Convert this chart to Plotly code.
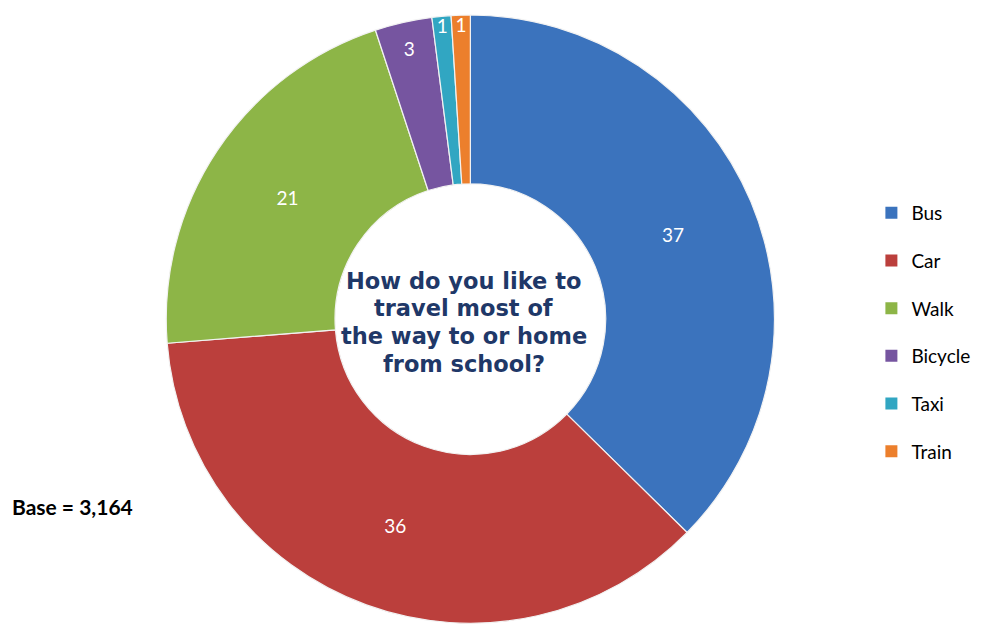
import plotly.graph_objects as go

categories = ["Bus", "Car", "Walk", "Bicycle", "Taxi", "Train"]
values = [37, 36, 21, 3, 1, 1]
colors = ["#3B73BD", "#BB3F3C", "#8DB547", "#7655A0", "#31A6C2", "#EC7F2C"]
center_lines = ["How do you like to", "travel most of", "the way to or home", "from school?"]
base_text = "Base = 3,164"

fig = go.Figure()
fig.add_trace(go.Pie(
    labels=categories, values=values, sort=False, direction="clockwise", rotation=0,
    hole=0.445, marker=dict(colors=colors, line=dict(color="#F2F2F2", width=1.2)),
    texttemplate="%{value}", textposition="inside", insidetextorientation="horizontal",
    textfont=dict(family="Lato, Carlito, sans-serif", size=19, color="white"),
    showlegend=False, hoverinfo="label+value",
    domain=dict(x=[0.160, 0.775], y=[0.017, 0.989]),
))

for cat, col in zip(categories, colors):
    fig.add_trace(go.Scatter(
        x=[None], y=[None], mode="markers", name=cat, legendgroup=cat,
        marker=dict(symbol="square", size=12, color=col, line=dict(color=col, width=0)),
        showlegend=True,
    ))

line_px = [273, 300, 328, 356]
for txt, py in zip(center_lines, line_px):
    fig.add_annotation(text="<b>" + txt + "</b>", x=0.461, y=1 - py / 626,
                       xref="paper", yref="paper", yanchor="middle",
                       showarrow=False, align="center",
                       font=dict(family="DejaVu Sans, Verdana, sans-serif", size=22.5, color="#1F3868"))
fig.add_annotation(text="<b>" + base_text + "</b>", x=0.0, y=0.181, xref="paper", yref="paper",
                   xanchor="left", showarrow=False, xshift=2,
                   font=dict(family="Lato, Carlito, sans-serif", size=21, color="black"))

fig.update_layout(
    width=989, height=626, margin=dict(l=0, r=0, t=0, b=0),
    paper_bgcolor="white", plot_bgcolor="white",
    xaxis=dict(visible=False), yaxis=dict(visible=False),
    uniformtext=dict(minsize=19, mode="show"),
    legend=dict(x=0.873, y=0.703, xanchor="left", yanchor="top", tracegroupgap=20,
                font=dict(family="Lato, Carlito, sans-serif", size=19, color="black"),
                itemwidth=30),
)
fig.write_html("out.html")
